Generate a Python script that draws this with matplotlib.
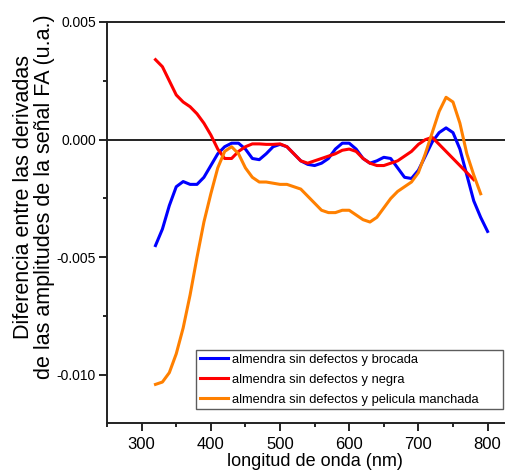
import numpy as np
import matplotlib.pyplot as plt

plt.rcParams['font.family'] = ['Liberation Sans', 'DejaVu Sans']

# wavelength (nm) and difference of derivatives
wl = np.arange(320, 810, 10)
brocada = [-0.0045, -0.0038, -0.0028, -0.0020, -0.00178, -0.0019, -0.0019, -0.0016,
           -0.0011, -0.0006, -0.0003, -0.00015, -0.00015, -0.0004, -0.0008, -0.00085,
           -0.0006, -0.0003, -0.0002, -0.0003, -0.0006, -0.0009, -0.00105, -0.0011,
           -0.0010, -0.0008, -0.0004, -0.00015, -0.00015, -0.0004, -0.0008, -0.0010,
           -0.0009, -0.00075, -0.0008, -0.0012, -0.0016, -0.00165, -0.0013, -0.0007,
           -0.0001, 0.0003, 0.0005, 0.0003, -0.0004, -0.0015, -0.0026, -0.0033, -0.0039]

wl_negra = np.arange(320, 790, 10)
negra = [0.0034, 0.0031, 0.0025, 0.0019, 0.0016, 0.0014, 0.0011, 0.0007, 0.0002,
         -0.0004, -0.0008, -0.0008, -0.0005, -0.0003, -0.00018, -0.00018, -0.0002,
         -0.0002, -0.00018, -0.0003, -0.0006, -0.0009, -0.0010, -0.0009, -0.0008,
         -0.0007, -0.0006, -0.00045, -0.0004, -0.0005, -0.0008, -0.0010, -0.0011,
         -0.0011, -0.0010, -0.0009, -0.0007, -0.0005, -0.0002, 0.0, 0.0001, -0.0002,
         -0.0005, -0.0008, -0.0011, -0.0014, -0.0017]

wl_pelicula = np.arange(320, 800, 10)
pelicula = [-0.0104, -0.0103, -0.0099, -0.0091, -0.0080, -0.0066, -0.0050, -0.0035,
            -0.0023, -0.0012, -0.0005, -0.0003, -0.0006, -0.0012, -0.0016, -0.0018,
            -0.0018, -0.00185, -0.0019, -0.0019, -0.0020, -0.0021, -0.0024, -0.0027,
            -0.0030, -0.0031, -0.0031, -0.0030, -0.0030, -0.0032, -0.0034, -0.0035,
            -0.0033, -0.0029, -0.0025, -0.0022, -0.0020, -0.0018, -0.0014, -0.0006,
            0.0003, 0.0012, 0.0018, 0.0016, 0.0007, -0.0006, -0.0015, -0.0023]

labels = ['almendra sin defectos y brocada',
          'almendra sin defectos y negra',
          'almendra sin defectos y pelicula manchada']

fig = plt.figure(figsize=(5.05, 4.74), dpi=100)
ax = fig.add_axes([0.212, 0.1076, 0.822, 0.846])

ax.axhline(0, color='#222222', lw=1.4, zorder=1)
ax.plot(wl, brocada, color='#0000ff', lw=2.2, label=labels[0])
ax.plot(wl_negra, negra, color='#ff0000', lw=2.2, label=labels[1])
ax.plot(wl_pelicula, pelicula, color='#ff8000', lw=2.2, label=labels[2])

ax.set_xticks([300, 400, 500, 600, 700, 800])
ax.set_xticks(np.arange(250, 851, 50), minor=True)
ax.set_yticks([-0.010, -0.005, 0.000, 0.005])
ax.set_yticklabels(['-0.010', '-0.005', '0.000', '0.005'])
ax.set_yticks(np.arange(-0.010, 0.0051, 0.0025), minor=True)
ax.set_xlim(250, 850)
ax.set_ylim(-0.01204, 0.005)
ax.tick_params(axis='x', which='major', direction='out', length=6, width=1.2, labelsize=12, pad=4)
ax.tick_params(axis='y', which='major', direction='out', length=6, width=1.2, labelsize=10, pad=2)
ax.tick_params(which='minor', direction='out', length=3, width=1.2)
for s in ax.spines.values():
    s.set_linewidth(1.4)
    s.set_color('#222222')

ax.set_xlabel('longitud de onda (nm)', fontsize=13, labelpad=1)
ax.set_ylabel('Diferencia entre las derivadas\nde las amplitudes de la señal FA (u.a.)',
              fontsize=15.5, linespacing=1.0)
ax.yaxis.set_label_coords(-0.125, 0.564)

# legend box runs to the right edge of the picture
leg = ax.legend(loc='upper left', bbox_to_anchor=(0.2145, 0.032, 0.74, 0.15), mode='expand',
                fontsize=9.3, frameon=True, fancybox=False, edgecolor='#333333', borderpad=0.3,
                borderaxespad=0, handlelength=2.2, handletextpad=0.3, labelspacing=0.6)
leg.get_frame().set_linewidth(1.0)

fig.savefig('out.png', dpi=100)
